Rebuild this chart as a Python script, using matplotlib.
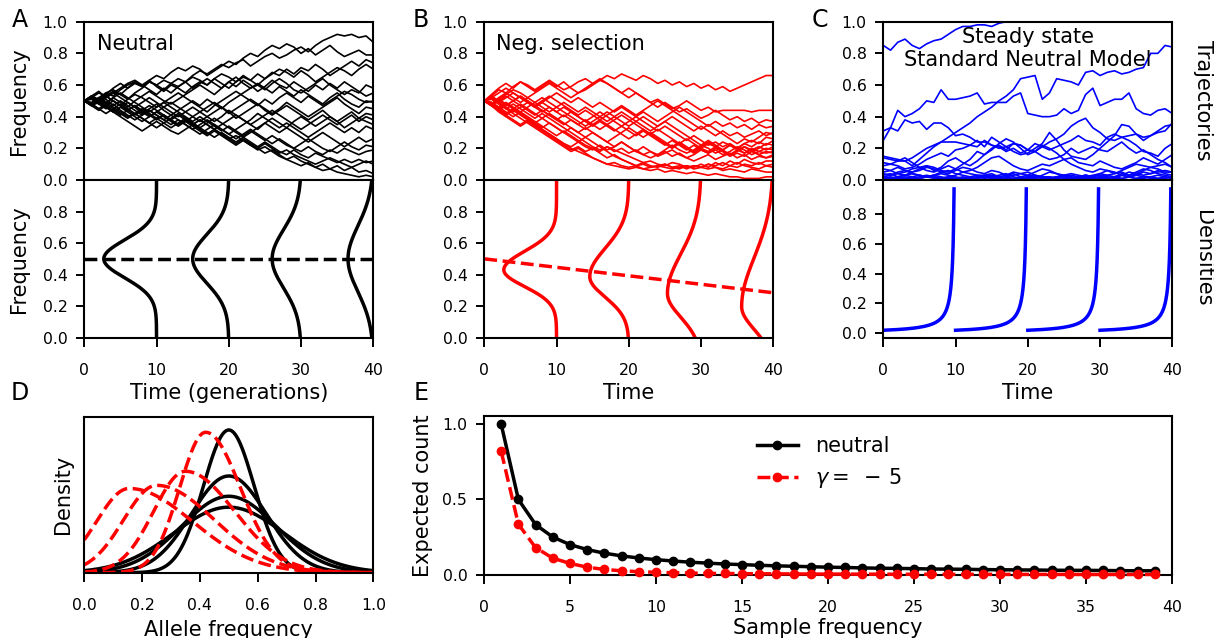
import numpy as np
import matplotlib
matplotlib.use("Agg")
import matplotlib.pyplot as plt

# --- trajectories (allele frequency in %, one value per generation 0..40) ---
neutral_traj = [
    [50, 53, 51, 55, 57, 54, 58, 61, 59, 62, 60, 63, 61, 64, 62, 66, 69, 67, 70, 73, 71, 74, 76, 72, 75, 78, 80, 77, 79, 82, 84, 81, 85, 88, 90, 92, 91, 92, 90, 91, 87],
    [50, 48, 52, 55, 53, 57, 60, 62, 59, 63, 66, 64, 68, 71, 69, 72, 70, 66, 69, 72, 75, 73, 77, 80, 78, 82, 85, 83, 86, 84, 80, 83, 79, 82, 85, 81, 78, 80, 82, 79, 79],
    [50, 52, 49, 53, 56, 54, 51, 55, 58, 62, 60, 57, 61, 59, 62, 65, 63, 60, 64, 61, 58, 62, 65, 63, 67, 64, 68, 66, 70, 67, 71, 69, 73, 70, 66, 69, 72, 75, 72, 76, 74],
    [50, 47, 51, 54, 58, 61, 58, 62, 60, 63, 59, 56, 60, 58, 55, 59, 62, 60, 64, 67, 65, 62, 66, 63, 60, 64, 67, 70, 68, 65, 69, 66, 62, 65, 68, 71, 69, 66, 70, 73, 70],
    [50, 53, 56, 52, 55, 58, 61, 63, 60, 57, 54, 58, 55, 59, 62, 58, 61, 64, 61, 58, 62, 65, 61, 58, 60, 57, 61, 64, 61, 57, 55, 58, 61, 64, 60, 57, 54, 57, 55, 60, 58],
    [50, 48, 45, 48, 52, 49, 46, 50, 53, 56, 53, 50, 48, 51, 54, 57, 60, 57, 54, 58, 62, 59, 63, 60, 56, 59, 63, 60, 58, 62, 59, 56, 60, 57, 61, 58, 62, 59, 56, 53, 55],
    [50, 52, 55, 53, 50, 47, 51, 54, 52, 49, 46, 49, 52, 55, 52, 49, 46, 43, 47, 50, 53, 56, 53, 50, 47, 51, 48, 52, 55, 52, 49, 53, 50, 47, 50, 53, 56, 54, 51, 49, 50],
    [50, 47, 44, 47, 43, 46, 49, 46, 42, 45, 48, 44, 41, 44, 47, 50, 47, 51, 48, 45, 49, 52, 55, 58, 61, 58, 55, 59, 56, 53, 57, 54, 51, 48, 52, 55, 51, 48, 46, 50, 49],
    [50, 53, 50, 47, 44, 41, 44, 47, 43, 40, 43, 46, 49, 46, 43, 40, 37, 40, 43, 46, 43, 39, 42, 45, 48, 45, 42, 45, 49, 46, 43, 40, 43, 46, 49, 52, 48, 45, 42, 46, 45],
    [50, 48, 51, 49, 46, 43, 40, 42, 39, 36, 39, 41, 38, 35, 37, 40, 43, 46, 49, 46, 42, 45, 48, 51, 48, 44, 41, 44, 47, 44, 41, 38, 41, 44, 40, 37, 40, 43, 39, 42, 41],
    [50, 52, 49, 52, 55, 52, 49, 46, 49, 52, 49, 46, 43, 40, 43, 46, 43, 40, 37, 40, 44, 41, 38, 35, 38, 41, 44, 41, 38, 35, 32, 35, 38, 41, 38, 35, 38, 41, 37, 40, 38],
    [50, 47, 50, 46, 43, 40, 37, 34, 31, 34, 37, 34, 31, 29, 32, 35, 38, 35, 32, 35, 38, 41, 38, 35, 32, 36, 39, 36, 33, 37, 40, 37, 34, 37, 40, 37, 33, 36, 39, 37, 35],
    [50, 52, 48, 45, 48, 44, 41, 38, 41, 44, 41, 38, 41, 38, 35, 32, 35, 38, 35, 32, 29, 32, 35, 38, 42, 39, 36, 33, 36, 33, 30, 27, 30, 33, 36, 33, 30, 33, 30, 34, 32],
    [50, 48, 51, 48, 45, 48, 45, 42, 45, 42, 39, 36, 39, 42, 39, 36, 33, 36, 39, 36, 33, 30, 27, 30, 33, 36, 33, 30, 33, 30, 27, 24, 27, 30, 27, 24, 21, 24, 27, 24, 26],
    [50, 51, 48, 51, 47, 50, 47, 44, 41, 44, 41, 38, 35, 38, 35, 32, 29, 32, 35, 32, 29, 26, 29, 32, 29, 26, 23, 26, 23, 20, 23, 26, 23, 20, 18, 21, 24, 21, 19, 22, 21],
    [50, 49, 52, 49, 52, 55, 52, 49, 46, 43, 46, 49, 46, 43, 40, 37, 40, 37, 34, 31, 34, 31, 28, 31, 28, 25, 28, 25, 22, 20, 18, 21, 18, 16, 19, 17, 20, 18, 16, 18, 19],
    [50, 48, 45, 42, 45, 42, 39, 42, 39, 36, 33, 36, 33, 36, 39, 36, 33, 30, 27, 30, 27, 24, 27, 24, 21, 24, 21, 18, 16, 19, 16, 14, 17, 15, 13, 11, 13, 11, 13, 11, 12],
    [50, 53, 50, 47, 50, 47, 44, 47, 44, 41, 38, 41, 38, 35, 38, 35, 32, 29, 32, 29, 26, 23, 26, 23, 20, 23, 20, 17, 19, 16, 14, 12, 10, 12, 14, 12, 10, 8, 10, 12, 10],
    [50, 47, 49, 46, 43, 46, 43, 40, 37, 40, 43, 40, 37, 34, 37, 34, 31, 28, 31, 28, 25, 22, 25, 22, 20, 17, 19, 16, 13, 15, 12, 10, 8, 10, 7, 9, 6, 8, 5, 6, 4],
    [50, 52, 50, 53, 50, 47, 44, 41, 44, 47, 44, 41, 38, 41, 38, 35, 38, 35, 32, 29, 26, 28, 25, 22, 19, 21, 18, 15, 13, 11, 9, 11, 8, 6, 7, 5, 4, 3, 2, 3, 2],
]

selection_traj = [
    [50, 53, 57, 55, 59, 62, 60, 57, 60, 63, 60, 57, 59, 62, 64, 61, 63, 66, 64, 67, 65, 63, 66, 64, 61, 63, 60, 62, 59, 61, 58, 60, 57, 59, 56, 58, 60, 62, 64, 66, 66],
    [50, 54, 58, 61, 58, 62, 59, 56, 59, 62, 59, 62, 58, 55, 57, 60, 63, 61, 58, 55, 52, 55, 52, 49, 51, 48, 45, 47, 50, 47, 44, 46, 43, 44, 44, 44, 44, 43, 44, 44, 44],
    [50, 47, 51, 54, 57, 55, 52, 55, 58, 61, 58, 55, 52, 55, 58, 61, 64, 61, 58, 55, 58, 55, 52, 49, 46, 49, 46, 43, 45, 42, 39, 41, 44, 41, 38, 40, 37, 39, 36, 38, 37],
    [50, 52, 49, 52, 55, 52, 49, 46, 49, 52, 55, 52, 49, 52, 49, 46, 49, 46, 43, 46, 43, 40, 43, 40, 37, 40, 43, 46, 43, 40, 37, 34, 37, 34, 36, 33, 35, 32, 35, 33, 34],
    [50, 48, 52, 55, 52, 49, 52, 49, 46, 43, 46, 49, 46, 43, 46, 43, 40, 37, 40, 43, 40, 37, 40, 37, 34, 37, 40, 37, 34, 31, 34, 31, 28, 31, 28, 30, 27, 29, 31, 28, 30],
    [50, 47, 44, 47, 50, 53, 50, 47, 50, 53, 50, 47, 44, 41, 44, 41, 38, 41, 44, 47, 44, 41, 44, 47, 50, 47, 44, 41, 38, 35, 32, 35, 32, 29, 26, 23, 26, 24, 27, 30, 29],
    [50, 52, 55, 58, 55, 52, 49, 46, 49, 46, 43, 46, 43, 40, 37, 40, 43, 40, 37, 34, 37, 40, 37, 34, 31, 34, 31, 28, 25, 28, 25, 22, 24, 21, 23, 20, 23, 25, 23, 27, 26],
    [50, 49, 46, 49, 46, 43, 46, 49, 52, 49, 46, 43, 40, 37, 34, 37, 40, 43, 40, 37, 34, 37, 34, 31, 34, 37, 34, 31, 28, 25, 22, 25, 22, 19, 22, 20, 23, 21, 24, 22, 25],
    [50, 47, 50, 53, 50, 53, 50, 47, 44, 41, 38, 41, 38, 35, 38, 35, 32, 35, 38, 41, 38, 35, 32, 29, 32, 29, 26, 23, 26, 23, 20, 23, 21, 24, 22, 19, 21, 18, 20, 23, 22],
    [50, 53, 50, 47, 50, 47, 44, 41, 44, 41, 38, 35, 38, 35, 32, 35, 38, 35, 32, 29, 26, 29, 32, 29, 26, 23, 20, 23, 20, 17, 20, 18, 21, 19, 22, 20, 17, 19, 21, 19, 21],
    [50, 48, 45, 42, 45, 48, 45, 42, 39, 42, 39, 36, 33, 30, 33, 30, 27, 24, 27, 30, 33, 30, 27, 30, 27, 24, 21, 24, 21, 18, 21, 24, 21, 18, 16, 19, 17, 20, 18, 20, 19],
    [50, 52, 49, 46, 43, 46, 49, 46, 43, 46, 43, 40, 43, 40, 37, 34, 37, 34, 31, 34, 31, 28, 31, 28, 25, 22, 25, 22, 19, 22, 19, 17, 19, 16, 18, 21, 19, 16, 18, 17, 18],
    [50, 47, 44, 41, 38, 35, 38, 35, 32, 29, 26, 23, 21, 24, 21, 19, 22, 19, 21, 24, 21, 18, 21, 18, 16, 19, 22, 19, 17, 19, 22, 20, 17, 19, 16, 18, 21, 19, 16, 18, 17],
    [50, 51, 48, 45, 48, 45, 42, 39, 42, 39, 36, 33, 30, 27, 24, 21, 19, 21, 18, 20, 17, 19, 16, 14, 16, 18, 15, 17, 14, 16, 19, 17, 20, 18, 15, 17, 15, 18, 16, 14, 16],
    [50, 48, 51, 48, 45, 42, 39, 36, 39, 36, 33, 30, 33, 30, 27, 30, 27, 24, 21, 24, 21, 18, 16, 18, 15, 17, 19, 16, 14, 12, 14, 16, 13, 15, 17, 14, 16, 13, 15, 14, 15],
    [50, 47, 43, 40, 37, 34, 37, 34, 31, 28, 25, 22, 19, 21, 18, 20, 17, 14, 16, 13, 11, 9, 11, 9, 8, 10, 8, 7, 9, 8, 10, 8, 11, 9, 12, 10, 13, 11, 10, 12, 12],
    [50, 52, 48, 45, 42, 39, 36, 33, 30, 27, 24, 21, 18, 20, 17, 14, 12, 10, 11, 9, 8, 9, 7, 8, 9, 8, 7, 8, 9, 7, 8, 10, 9, 11, 9, 8, 10, 9, 11, 9, 10],
    [50, 48, 45, 48, 45, 42, 39, 36, 33, 36, 33, 30, 27, 24, 27, 24, 21, 18, 15, 13, 11, 9, 10, 8, 9, 10, 8, 9, 7, 9, 8, 10, 8, 7, 9, 11, 9, 8, 7, 9, 8],
    [50, 49, 46, 43, 40, 43, 40, 37, 34, 31, 28, 31, 28, 25, 22, 20, 18, 21, 19, 17, 15, 13, 11, 12, 10, 9, 11, 10, 8, 9, 8, 7, 8, 6, 7, 6, 5, 7, 6, 5, 5],
    [50, 47, 44, 41, 44, 41, 38, 35, 32, 29, 26, 23, 20, 18, 16, 14, 12, 10, 9, 8, 7, 8, 7, 6, 7, 5, 6, 5, 4, 5, 4, 3, 4, 3, 2, 2, 1, 1, 1, 2, 2],
]

steady_traj = [
    [85, 82, 87, 89, 85, 83, 86, 88, 89, 92, 95, 97, 97, 98, 98, 97, 99, 100, 100, 100, 100, 100, 100, 100, 100, 100, 100, 100, 100, 100, 100, 100, 100, 100, 100, 100, 100, 100, 100, 100, 100],
    [25, 33, 44, 40, 42, 45, 50, 49, 57, 51, 51, 52, 53, 55, 48, 49, 49, 49, 53, 55, 42, 41, 40, 40, 41, 45, 42, 44, 54, 58, 47, 49, 51, 51, 55, 45, 42, 41, 44, 45, 42],
    [15, 14, 13, 12, 14, 17, 20, 22, 24, 27, 30, 33, 36, 40, 43, 46, 50, 53, 57, 64, 65, 66, 51, 55, 64, 63, 62, 60, 68, 69, 66, 68, 69, 67, 68, 70, 71, 80, 80, 85, 84],
    [31, 33, 31, 38, 36, 37, 32, 36, 36, 33, 28, 29, 27, 24, 24, 22, 20, 21, 23, 22, 19, 18, 21, 24, 26, 29, 34, 37, 39, 33, 30, 26, 25, 27, 28, 29, 27, 28, 30, 31, 36],
    [14, 13, 12, 12, 9, 13, 17, 21, 24, 24, 24, 23, 22, 21, 25, 22, 21, 18, 20, 17, 19, 23, 21, 19, 21, 23, 25, 28, 25, 24, 22, 27, 29, 27, 25, 22, 18, 17, 15, 20, 23],
    [11, 10, 9, 7, 8, 10, 13, 15, 17, 15, 19, 20, 22, 25, 21, 27, 24, 21, 18, 16, 17, 20, 23, 30, 25, 19, 15, 14, 13, 16, 20, 24, 28, 35, 34, 29, 25, 28, 31, 34, 35],
    [9, 10, 12, 14, 11, 8, 9, 6, 8, 12, 14, 11, 9, 12, 16, 19, 23, 26, 24, 20, 16, 18, 22, 20, 17, 13, 14, 11, 10, 9, 12, 10, 8, 7, 9, 11, 14, 12, 10, 13, 16],
    [7, 6, 8, 6, 5, 7, 9, 8, 6, 5, 7, 10, 13, 18, 16, 20, 22, 19, 23, 22, 19, 18, 15, 13, 14, 16, 20, 17, 19, 21, 19, 18, 21, 24, 20, 17, 19, 16, 13, 11, 8],
    [5, 6, 4, 5, 7, 8, 6, 5, 7, 9, 7, 5, 6, 8, 11, 14, 15, 12, 9, 7, 6, 8, 10, 9, 11, 13, 10, 8, 6, 5, 7, 6, 4, 5, 3, 4, 6, 8, 7, 5, 5],
    [4, 3, 5, 6, 4, 3, 2, 3, 5, 4, 6, 8, 7, 5, 4, 6, 5, 3, 4, 2, 3, 5, 7, 6, 4, 3, 2, 1, 2, 3, 4, 6, 5, 3, 2, 3, 5, 4, 6, 4, 3],
    [3, 4, 2, 3, 5, 6, 8, 7, 5, 6, 4, 3, 2, 1, 2, 3, 2, 1, 0, 1, 2, 1, 3, 5, 4, 2, 1, 2, 3, 2, 1, 1, 2, 4, 3, 5, 7, 6, 4, 3, 2],
    [2, 3, 4, 3, 2, 1, 2, 3, 2, 1, 1, 2, 1, 2, 3, 4, 2, 3, 5, 4, 3, 2, 1, 2, 1, 0, 1, 2, 3, 2, 4, 3, 2, 1, 2, 1, 1, 2, 3, 2, 1],
    [2, 1, 2, 3, 4, 3, 2, 1, 1, 2, 3, 5, 4, 3, 2, 1, 1, 2, 1, 1, 2, 3, 2, 1, 2, 3, 4, 3, 2, 1, 2, 3, 4, 6, 8, 10, 9, 8, 9, 10, 8],
    [1, 2, 1, 1, 2, 3, 2, 2, 1, 2, 1, 1, 2, 3, 3, 2, 1, 2, 3, 4, 5, 3, 2, 2, 1, 2, 3, 2, 1, 1, 2, 1, 2, 3, 2, 3, 2, 2, 1, 2, 1],
    [1, 1, 2, 1, 1, 1, 2, 3, 4, 3, 2, 1, 1, 2, 1, 2, 3, 4, 2, 1, 1, 2, 1, 1, 2, 3, 2, 1, 1, 2, 3, 2, 1, 3, 5, 4, 3, 4, 5, 6, 5],
    [0, 1, 1, 2, 1, 2, 3, 2, 1, 1, 0, 1, 2, 1, 2, 1, 1, 0, 1, 2, 1, 1, 2, 1, 2, 1, 1, 2, 3, 2, 1, 2, 1, 1, 0, 1, 2, 1, 1, 1, 2],
]

# --- density snapshots drawn sideways at each time point ---
snap_times = [10, 20, 30, 40]
neutral_mode = [0.5, 0.5, 0.5, 0.5]
neutral_sd = [0.12, 0.155, 0.185, 0.21]
neutral_peak = [7.3, 5.0, 4.0, 3.5]          # width of the bump in generations

sel_mode = [0.43, 0.387, 0.28, 0.197]
sel_sd_lo = [0.106, 0.13, 0.15, 0.144]
sel_sd_hi = [0.118, 0.18, 0.25, 0.31]
sel_peak = [7.3, 5.4, 4.65, 4.38]
sel_mean_t = [0, 40]
sel_mean_p = [0.5, 0.285]

snm_scale = 0.2      # steady state density ~ scale / p
snm_pmin, snm_pmax = 0.02, 0.97

# --- panel D ---
d_neutral_height = [0.915, 0.62, 0.49, 0.42]
d_neutral_sd = [0.088, 0.13, 0.164, 0.19]
d_sel_mode = [0.42, 0.35, 0.25, 0.155]
d_sel_height = [0.90, 0.65, 0.56, 0.54]
d_sel_sd_lo = [0.09, 0.11, 0.114, 0.113]
d_sel_sd_hi = [0.12, 0.17, 0.20, 0.22]

# --- panel E: expected site frequency spectrum ---
sample_freq = np.arange(1, 40)
sfs_neutral = [1.0, 0.5, 0.333, 0.25, 0.2, 0.167, 0.143, 0.125, 0.111, 0.1,
               0.091, 0.083, 0.077, 0.071, 0.067, 0.0625, 0.059, 0.056, 0.053, 0.05,
               0.048, 0.045, 0.043, 0.042, 0.04, 0.038, 0.037, 0.036, 0.034, 0.033,
               0.032, 0.031, 0.030, 0.029, 0.029, 0.028, 0.027, 0.026, 0.026]
sfs_selected = [0.82, 0.335, 0.18, 0.11, 0.075, 0.05, 0.035, 0.026, 0.02, 0.016,
                0.013, 0.011, 0.009, 0.008, 0.007, 0.006, 0.0055, 0.005, 0.0045, 0.004,
                0.004, 0.0035, 0.0035, 0.003, 0.003, 0.003, 0.0025, 0.0025, 0.0025, 0.002,
                0.002, 0.002, 0.002, 0.002, 0.0015, 0.0015, 0.0015, 0.0015, 0.0015]

RED = "#ff0000"
BLUE = "#0000ff"
TICK_FS = 11.3
LABEL_FS = 15

plt.rcParams["axes.linewidth"] = 1.5
plt.rcParams["xtick.major.width"] = 1.4
plt.rcParams["ytick.major.width"] = 1.4
plt.rcParams["xtick.major.size"] = 6.5
plt.rcParams["ytick.major.size"] = 5.5
plt.rcParams["xtick.major.pad"] = 12
plt.rcParams["ytick.major.pad"] = 6.5
plt.rcParams["xtick.labelsize"] = TICK_FS
plt.rcParams["ytick.labelsize"] = TICK_FS


def bump(p, mode, sd_lo, sd_hi):
    sd = np.where(p < mode, sd_lo, sd_hi)
    return np.exp(-0.5 * ((p - mode) / sd) ** 2)


W, H = 1214, 638
fig = plt.figure(figsize=(W / 100, H / 100), dpi=100)


def px_axes(x0, x1, y0, y1):
    return fig.add_axes([x0 / W, 1 - y1 / H, (x1 - x0) / W, (y1 - y0) / H])


cols = [(84.3, 373.3), (484.3, 773.3), (883.3, 1172.3)]
top_axes = [px_axes(c[0], c[1], 21.7, 180) for c in cols]
bot_axes = [px_axes(c[0], c[1], 180, 337.7) for c in cols]

p = np.linspace(0, 1, 400)

# trajectories
for ax, trajs, color in zip(top_axes, [neutral_traj, selection_traj, steady_traj], ["black", RED, BLUE]):
    for row in trajs:
        ax.plot(np.arange(len(row)), np.array(row) / 100.0, color=color, lw=1.2)
    ax.set_xlim(0, 40)
    ax.set_ylim(0, 1)
    ax.set_yticks([0, 0.2, 0.4, 0.6, 0.8, 1.0])
    ax.tick_params(axis="x", bottom=False, labelbottom=False)

# densities
axA, axB, axC = bot_axes
for t, m, s, pk in zip(snap_times, neutral_mode, neutral_sd, neutral_peak):
    axA.plot(t - pk * bump(p, m, s, s), p, color="black", lw=2.5)
axA.axhline(0.5, color="black", lw=2.5, ls="--")

for t, m, slo, shi, pk in zip(snap_times, sel_mode, sel_sd_lo, sel_sd_hi, sel_peak):
    axB.plot(t - pk * bump(p, m, slo, shi), p, color=RED, lw=2.5)
axB.plot(sel_mean_t, sel_mean_p, color=RED, lw=2.5, ls="--")

ps = np.linspace(snm_pmin, snm_pmax, 400)
for t in snap_times:
    axC.plot(t - snm_scale / ps, ps, color=BLUE, lw=2.5)

for ax in bot_axes:
    ax.set_xlim(0, 40)
    ax.set_xticks([0, 10, 20, 30, 40])
    ax.set_yticks([0, 0.2, 0.4, 0.6, 0.8])
for ax in (axA, axB):
    ax.set_ylim(0, 1)
axC.set_ylim(-0.03, 1.03)

top_axes[0].set_ylabel("Frequency", fontsize=LABEL_FS, labelpad=10)
axA.set_ylabel("Frequency", fontsize=LABEL_FS, labelpad=10)
axA.set_xlabel("Time (generations)", fontsize=LABEL_FS, labelpad=3)
axB.set_xlabel("Time", fontsize=LABEL_FS, labelpad=3)
axC.set_xlabel("Time", fontsize=LABEL_FS, labelpad=3)

top_axes[0].text(0.044, 0.86, "Neutral", transform=top_axes[0].transAxes,
                 fontsize=LABEL_FS, va="center", ha="left")
top_axes[1].text(0.04, 0.86, "Neg. selection", transform=top_axes[1].transAxes,
                 fontsize=LABEL_FS, va="center", ha="left")
top_axes[2].text(0.5, 0.83, "Steady state\nStandard Neutral Model", transform=top_axes[2].transAxes,
                 fontsize=LABEL_FS, va="center", ha="center", linespacing=1.15)

fig.text(1203 / W, 1 - 100 / H, "Trajectories", rotation=270, fontsize=LABEL_FS, ha="center", va="center")
fig.text(1203 / W, 1 - 258 / H, "Densities", rotation=270, fontsize=LABEL_FS, ha="center", va="center")

# panel D
axD = px_axes(84.3, 373.3, 416.7, 572.7)
for h, s in zip(d_neutral_height, d_neutral_sd):
    axD.plot(p, h * bump(p, 0.5, s, s), color="black", lw=2.5)
for m, h, slo, shi in zip(d_sel_mode, d_sel_height, d_sel_sd_lo, d_sel_sd_hi):
    axD.plot(p, h * bump(p, m, slo, shi), color=RED, lw=2.5, ls="--")
axD.set_xlim(0, 1)
axD.set_ylim(0, 1)
axD.set_yticks([])
axD.set_xticks([0, 0.2, 0.4, 0.6, 0.8, 1.0])
axD.set_ylabel("Density", fontsize=LABEL_FS, labelpad=8)
axD.set_xlabel("Allele frequency", fontsize=LABEL_FS, labelpad=5)

# panel E
axE = px_axes(484, 1172, 415.7, 574.7)
axE.plot(sample_freq, sfs_neutral, "-o", color="black", lw=2.5, ms=6, label="neutral", clip_on=False, zorder=3)
axE.plot(sample_freq, sfs_selected, "--o", color=RED, lw=2.5, ms=6, label=r"$\gamma =\ -\,5$", clip_on=False, zorder=3)
axE.set_xlim(0, 40)
axE.set_ylim(0, 1.057)
axE.set_xticks(range(0, 41, 5))
axE.set_yticks([0, 0.5, 1.0])
axE.set_ylabel("Expected count", fontsize=LABEL_FS, labelpad=7)
axE.set_xlabel("Sample frequency", fontsize=LABEL_FS, labelpad=2)
axE.legend(loc="upper center", bbox_to_anchor=(0.502, 0.99), frameon=False, fontsize=LABEL_FS)

# panel letters
for letter, x, y in [("A", 20, 20), ("B", 421, 20), ("C", 820, 20), ("D", 20, 393), ("E", 421, 393)]:
    fig.text(x / W, 1 - y / H, letter, fontsize=17, ha="center", va="center")

fig.savefig("out.png", dpi=100)
